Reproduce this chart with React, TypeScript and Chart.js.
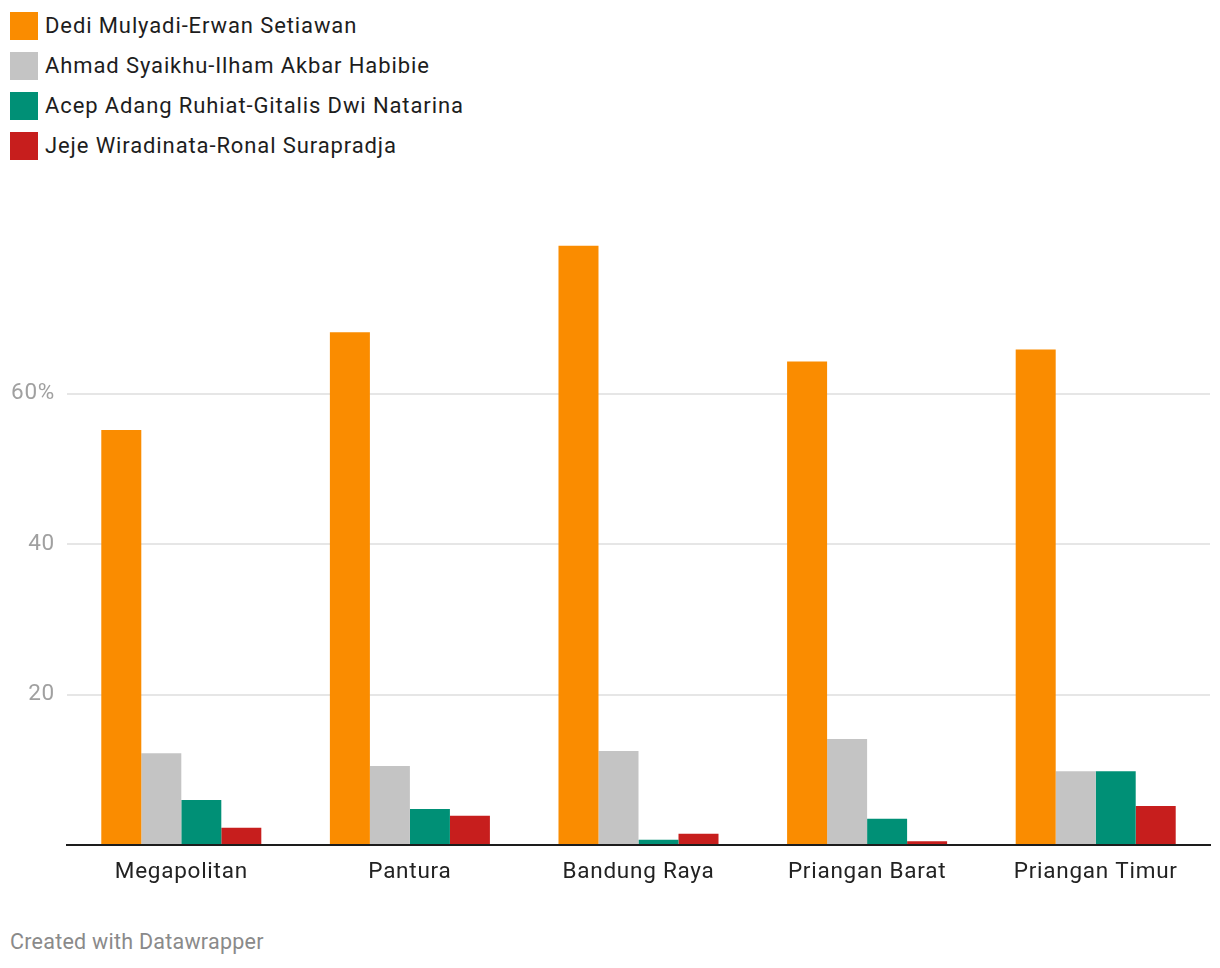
import React, { useEffect, useRef } from "react";
import { Chart, registerables } from "chart.js";

Chart.register(...registerables);

const categories = ["Megapolitan", "Pantura", "Bandung Raya", "Priangan Barat", "Priangan Timur"];
const seriesNames = [
  "Dedi Mulyadi-Erwan Setiawan",
  "Ahmad Syaikhu-Ilham Akbar Habibie",
  "Acep Adang Ruhiat-Gitalis Dwi Natarina",
  "Jeje Wiradinata-Ronal Surapradja",
];
const dediErwan = [55.2, 68.2, 79.7, 64.3, 65.9];
const syaikhuIlham = [12.2, 10.5, 12.5, 14.1, 9.8];
const acepGitalis = [6.0, 4.8, 0.7, 3.5, 9.8];
const jejeRonal = [2.3, 3.9, 1.5, 0.5, 5.2];
const seriesColors = ["#fa8c00", "#c4c4c4", "#009076", "#c71e1d"];
const yTickValues = [20, 40, 60];
const yTickLabels = ["20", "40", "60%"];
const footerText = "Created with Datawrapper";

const FONT = "Roboto, 'Noto Sans', sans-serif";

const letterSpacingPlugin = {
  id: "letterSpacing",
  beforeDraw: (c: any) => {
    (c.ctx as any).letterSpacing = "0.75px";
  },
};

export default function App() {
  const canvasRef = useRef<HTMLCanvasElement | null>(null);

  useEffect(() => {
    if (!canvasRef.current) return;
    const seriesValues = [dediErwan, syaikhuIlham, acepGitalis, jejeRonal];
    const chart = new Chart(canvasRef.current, {
      type: "bar",
      data: {
        labels: categories,
        datasets: seriesNames.map((name, i) => ({
          label: name,
          data: seriesValues[i],
          backgroundColor: seriesColors[i],
          borderWidth: 0,
          categoryPercentage: 0.7,
          barPercentage: 1.0,
        })),
      },
      plugins: [letterSpacingPlugin],
      options: {
        responsive: false,
        animation: false,
        devicePixelRatio: 1,
        layout: { padding: { top: 43.4, right: 10, left: 0, bottom: 0 } },
        plugins: {
          legend: { display: false },
          tooltip: { enabled: false },
          title: { display: false },
        },
        scales: {
          x: {
            grid: { display: false, drawTicks: false },
            border: { display: true, color: "#1d1d1d", width: 2, z: 1 },
            ticks: {
              color: "#222222",
              font: { family: FONT, size: 22.5 },
              padding: 14,
              maxRotation: 0,
              autoSkip: false,
            },
            afterFit: (scale: any) => {
              scale.height = 75;
            },
          },
          y: {
            min: 0,
            max: 80,
            border: { display: false },
            grid: {
              drawTicks: false,
              lineWidth: 2,
              color: (ctx: any) =>
                ctx.tick && yTickValues.includes(ctx.tick.value) ? "#e6e6e6" : "rgba(0,0,0,0)",
            },
            ticks: {
              stepSize: 20,
              color: "#a0a0a0",
              font: { family: FONT, size: 22.5 },
              padding: 12,
              callback: (value: any) => {
                const idx = yTickValues.indexOf(Number(value));
                return idx >= 0 ? yTickLabels[idx] : "";
              },
            },
            afterFit: (scale: any) => {
              scale.width = 67;
            },
          },
        },
      },
    });
    return () => chart.destroy();
  }, []);

  return (
    <div
      style={{
        position: "absolute",
        left: 0,
        top: 0,
        width: 1220,
        height: 968,
        background: "#ffffff",
        fontFamily: FONT,
        overflow: "hidden",
      }}
    >
      <div style={{ position: "absolute", left: 10, top: 12 }}>
        {seriesNames.map((name, i) => (
          <div
            key={name}
            style={{ display: "flex", alignItems: "center", height: 28, marginBottom: 12 }}
          >
            <div style={{ width: 28, height: 28, background: seriesColors[i], flex: "none" }} />
            <span
              style={{
                marginLeft: 7,
                fontSize: 22,
                letterSpacing: "0.89px",
                color: "#1d1d1d",
                whiteSpace: "nowrap",
                lineHeight: "28px",
              }}
            >
              {name}
            </span>
          </div>
        ))}
      </div>
      <canvas
        ref={canvasRef}
        width={1220}
        height={720}
        style={{ position: "absolute", left: 0, top: 200, width: 1220, height: 720 }}
      />
      <div
        style={{
          position: "absolute",
          left: 10,
          top: 930,
          fontSize: 21.5,
          letterSpacing: "0.25px",
          color: "#8a8a8a",
          lineHeight: "24px",
          whiteSpace: "nowrap",
        }}
      >
        {footerText}
      </div>
    </div>
  );
}
